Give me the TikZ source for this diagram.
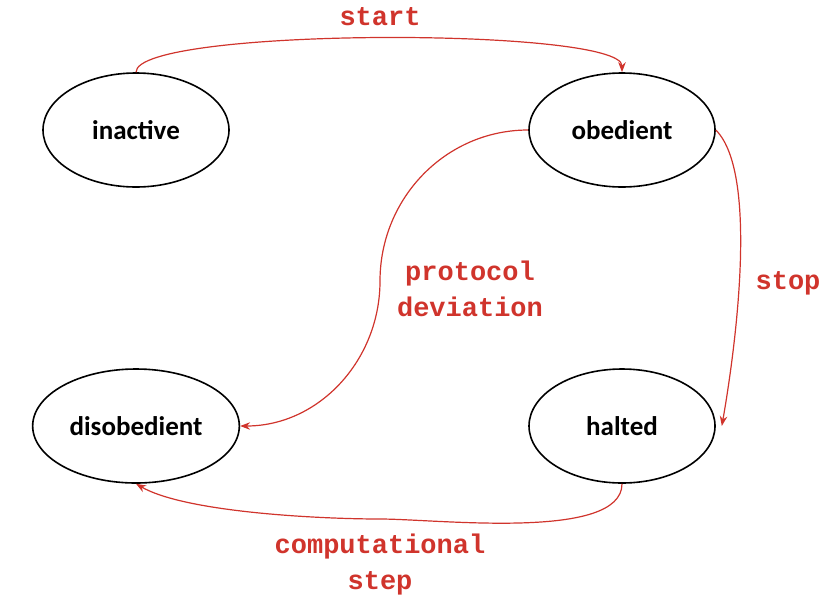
\documentclass[tikz,border=0pt]{standalone}
\usepackage{fontspec}
\setmainfont{Carlito}
\newfontfamily\codefont{Liberation Mono}
\usetikzlibrary{arrows.meta,positioning,shapes.geometric}
\definecolor{edgered}{HTML}{D0342C}
\tikzset{
	state/.style={
		draw=black, thick, ellipse, minimum width=93pt, minimum height=57pt,
		font=\fontsize{13.5}{15}\selectfont\bfseries
	},
	move/.style={
		draw=edgered, line width=0.6pt, -{Stealth[length=5pt]}
	},
	move label/.style={
		text=edgered, align=center, inner sep=1pt,
		font=\codefont\fontsize{13.5}{18}\selectfont\bfseries
	}
}
\begin{document}
\begin{tikzpicture}[x=1pt,y=1pt]
	\useasboundingbox (0,0) rectangle (419,303.5);
	\node[state] (inactive) at (68,238.5) {inactive};
	\node[state] (obedient) at (311,238.5) {obedient};
	\node[state] (disobedient) at (68,90.5) {disobedient};
	\node[state] (halted) at (311,90.5) {halted};
	\coordinate (bend) at (190,163);
	
	\draw[move] (inactive.north) .. controls (68,290) and (311,290) .. (obedient.north);
	\draw[move] (obedient.west) to[out=180,in=90] (bend) to[out=-90,in=0] (disobedient.east);
	\draw[move] (obedient.east) to[out=-45,in=80,looseness=0.55] ([xshift=3pt]halted.east);
	\coordinate (dip) at (190,44);
	\draw[move] (halted.south) to[out=-90,in=0,looseness=0.6] (dip) to[out=180,in=-30,looseness=0.6] (disobedient.south);
	
	\node[move label] (l-start) at (190,295) {start};
	\node[move label] (l-dev) at (235,159) {protocol\\deviation};
	\node[move label] (l-stop) at (394,162) {stop};
	\node[move label] (l-step) at (190,21) {computational\\step};
\end{tikzpicture}
\end{document}
